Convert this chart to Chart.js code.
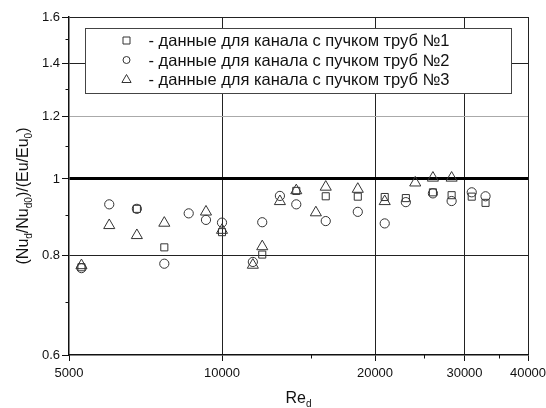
<!DOCTYPE html>
<html>
<head>
<meta charset="utf-8">
<script src="https://cdn.jsdelivr.net/npm/chart.js@4/dist/chart.umd.min.js"></script>
<style>
  html, body { margin: 0; padding: 0; background: #fff; }
  #wrap { width: 546px; height: 408px; }
</style>
</head>
<body>
<div id="wrap"><canvas id="chart" width="546" height="408"></canvas></div>
<script>
const FONT = "'Liberation Sans', Arial, sans-serif";

// Re_d and (Nu_d/Nu_d0)/(Eu/Eu_0) for the three tube bundles
const re1 = [5290, 6800, 7700, 10000, 12000, 14000, 16000, 18500, 20900, 23000, 26000, 28300, 31000, 33000];
const val1 = [0.774, 0.917, 0.820, 0.857, 0.803, 0.966, 0.951, 0.950, 0.949, 0.946, 0.962, 0.954, 0.950, 0.933];

const re2 = [5290, 6000, 6800, 7700, 8600, 9300, 10000, 11500, 12000, 13000, 14000, 16000, 18500, 20900, 23000, 26000, 28300, 31000, 33000];
const val2 = [0.772, 0.929, 0.917, 0.782, 0.905, 0.888, 0.881, 0.786, 0.882, 0.952, 0.929, 0.885, 0.909, 0.879, 0.935, 0.959, 0.938, 0.962, 0.951];

const re3 = [5290, 6000, 6800, 7700, 9300, 10000, 11500, 12000, 13000, 14000, 15300, 16000, 18500, 20900, 24000, 26000, 28300];
const val3 = [0.778, 0.874, 0.849, 0.880, 0.909, 0.862, 0.779, 0.822, 0.937, 0.967, 0.907, 0.977, 0.971, 0.937, 0.989, 1.003, 1.003];

const legendLabels = [
    '- данные для канала с пучком труб №1',
    '- данные для канала с пучком труб №2',
    '- данные для канала с пучком труб №3'
];

const xTicks = [5000, 10000, 15000, 20000, 25000, 30000, 35000, 40000];
const xLabels = ['5000', '10000', '', '20000', '', '30000', '', '40000'];
const yTicks = [0.6, 0.7, 0.8, 0.9, 1.0, 1.1, 1.2, 1.3, 1.4, 1.5, 1.6];
const yLabels = ['0.6', '', '0.8', '', '1', '', '1.2', '', '1.4', '', '1.6'];

const toPoints = (xs, ys) => xs.map((x, i) => ({ x: x, y: ys[i] }));
const near = (a, b) => Math.abs(a - b) < 1e-6 * b;

const yGridColor = (ctx) => {
    const v = ctx.tick ? ctx.tick.value : 0;
    if (near(v, 1.0)) return '#000';
    if (near(v, 1.2)) return '#aaa';
    if (near(v, 0.8) || near(v, 1.4) || near(v, 1.6)) return '#222';
    return 'rgba(0,0,0,0)';
};
const yTickColor = (ctx) => yLabels[ctx.index] ? '#111' : 'rgba(0,0,0,0)';
const xGridColor = (ctx) => {
    const v = ctx.tick ? ctx.tick.value : 0;
    if (near(v, 10000) || near(v, 20000) || near(v, 30000) || near(v, 40000)) return '#222';
    return 'rgba(0,0,0,0)';
};
const xTickColor = (ctx) => xLabels[ctx.index] ? '#111' : 'rgba(0,0,0,0)';

// short minor ticks, the legend box and the axis titles with subscripts
const extras = {
    id: 'extras',
    afterDraw(chart) {
        const ctx = chart.ctx;
        const area = chart.chartArea;
        const xs = chart.scales.x;
        const ys = chart.scales.y;
        ctx.save();
        ctx.strokeStyle = '#111';
        ctx.lineWidth = 1;
        ctx.beginPath();
        yTicks.forEach((v, i) => {
            if (yLabels[i]) return;
            const py = Math.round(ys.getPixelForValue(v)) + 0.5;
            ctx.moveTo(area.left, py);
            ctx.lineTo(area.left - 3.5, py);
        });
        xTicks.forEach((v, i) => {
            if (xLabels[i]) return;
            const px = Math.round(xs.getPixelForValue(v)) + 0.5;
            ctx.moveTo(px, area.bottom);
            ctx.lineTo(px, area.bottom + 3.5);
        });
        ctx.stroke();

        // legend
        const lx = 85.5, ly = 28.5, lw = 426, lh = 65;
        ctx.fillStyle = '#fff';
        ctx.fillRect(lx, ly, lw, lh);
        ctx.strokeStyle = '#444';
        ctx.strokeRect(lx, ly, lw, lh);
        const styles = ['rect', 'circle', 'triangle'];
        ctx.font = '16.5px ' + FONT;
        ctx.textBaseline = 'middle';
        ctx.textAlign = 'left';
        legendLabels.forEach((label, i) => {
            const cy = 40.5 + i * 19.5;
            const cx = 126.5;
            ctx.strokeStyle = '#333';
            ctx.beginPath();
            if (styles[i] === 'rect') {
                ctx.rect(cx - 3.5, cy - 3.5, 7, 7);
            } else if (styles[i] === 'circle') {
                ctx.arc(cx, cy, 3.5, 0, Math.PI * 2);
            } else {
                ctx.moveTo(cx, cy - 5);
                ctx.lineTo(cx + 4.6, cy + 3);
                ctx.lineTo(cx - 4.6, cy + 3);
                ctx.closePath();
            }
            ctx.stroke();
            ctx.fillStyle = '#111';
            ctx.fillText(label, 148.5, cy + 1);
        });

        // axis titles
        const big = '16px ' + FONT;
        const small = '10px ' + FONT;
        const drawParts = (parts, x0, y0) => {
            let x = x0;
            parts.forEach(p => {
                ctx.font = p[1] ? small : big;
                ctx.fillText(p[0], x, y0 + (p[1] ? 4 : 0));
                x += ctx.measureText(p[0]).width;
            });
        };
        const widthOf = (parts) => parts.reduce((s, p) => {
            ctx.font = p[1] ? small : big;
            return s + ctx.measureText(p[0]).width;
        }, 0);
        ctx.fillStyle = '#111';
        ctx.textBaseline = 'alphabetic';
        const xTitle = [['Re', false], ['d', true]];
        drawParts(xTitle, (area.left + area.right) / 2 - widthOf(xTitle) / 2, 403);

        const yTitle = [['(Nu', false], ['d', true], ['/Nu', false], ['d0', true],
            [')/(Eu/Eu', false], ['0', true], [')', false]];
        ctx.translate(28, 196);
        ctx.rotate(-Math.PI / 2);
        drawParts(yTitle, -widthOf(yTitle) / 2, 0);
        ctx.restore();
    }
};

new Chart(document.getElementById('chart'), {
    type: 'scatter',
    data: {
        datasets: [
            {
                data: toPoints(re1, val1), pointStyle: 'rect', pointRadius: 5,
                borderColor: '#333', backgroundColor: 'rgba(0,0,0,0)', borderWidth: 1
            },
            {
                data: toPoints(re2, val2), pointStyle: 'circle', pointRadius: 4.6,
                borderColor: '#333', backgroundColor: 'rgba(0,0,0,0)', borderWidth: 1
            },
            {
                data: toPoints(re3, val3), pointStyle: 'triangle', pointRadius: 6.4,
                borderColor: '#333', backgroundColor: 'rgba(0,0,0,0)', borderWidth: 1
            }
        ]
    },
    options: {
        responsive: false,
        animation: false,
        devicePixelRatio: 1,
        layout: { padding: { left: 0, top: 17, right: 18, bottom: 0 } },
        plugins: {
            legend: { display: false },
            tooltip: { enabled: false }
        },
        scales: {
            x: {
                type: 'logarithmic',
                min: 5000,
                max: 40000,
                afterBuildTicks: (scale) => { scale.ticks = xTicks.map(v => ({ value: v })); },
                afterFit: (scale) => {
                    scale.height = 53;
                    // let the last label run past the edge, as in the original
                    scale.paddingLeft = 0;
                    scale.paddingRight = 0;
                },
                ticks: {
                    autoSkip: false,
                    maxRotation: 0,
                    padding: 5,
                    color: '#111',
                    font: { family: FONT, size: 13 },
                    callback: (v, i) => xLabels[i]
                },
                grid: {
                    color: xGridColor,
                    tickColor: xTickColor,
                    lineWidth: 1,
                    tickLength: 6
                },
                border: { display: true, color: '#111', width: 1.5 }
            },
            y: {
                type: 'logarithmic',
                min: 0.6,
                max: 1.6,
                afterBuildTicks: (scale) => { scale.ticks = yTicks.map(v => ({ value: v })); },
                afterFit: (scale) => {
                    scale.width = 69;
                    scale.paddingTop = 0;
                    scale.paddingBottom = 0;
                },
                ticks: {
                    autoSkip: false,
                    padding: 2,
                    color: '#111',
                    font: { family: FONT, size: 13 },
                    callback: (v, i) => yLabels[i]
                },
                grid: {
                    color: yGridColor,
                    tickColor: yTickColor,
                    lineWidth: (ctx) => (ctx.tick && near(ctx.tick.value, 1.0)) ? 3 : 1,
                    tickWidth: 1,
                    tickLength: 7
                },
                border: { display: true, color: '#111', width: 1.5 }
            }
        }
    },
    plugins: [extras]
});
</script>
</body>
</html>
